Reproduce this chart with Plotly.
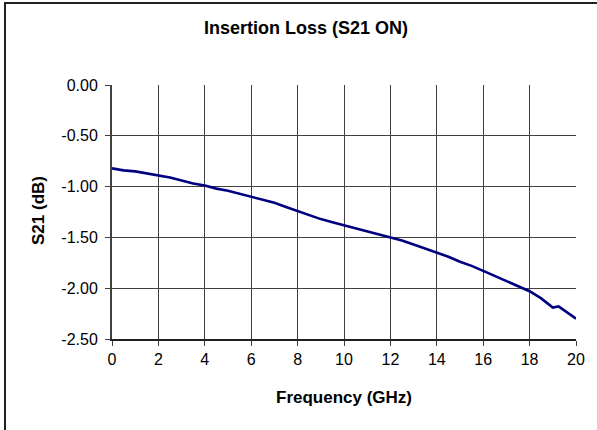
import plotly.graph_objects as go

freq_ghz = [0, 0.5, 1, 1.5, 2, 2.5, 3, 3.5, 4, 4.5, 5, 5.5, 6, 6.5, 7, 7.5, 8, 8.5, 9, 9.5,
            10, 10.5, 11, 11.5, 12, 12.5, 13, 13.5, 14, 14.5, 15, 15.5, 16, 16.5, 17, 17.5,
            18, 18.5, 19, 19.25, 19.5, 20]
s21_db = [-0.82, -0.84, -0.85, -0.87, -0.89, -0.91, -0.94, -0.97, -0.99, -1.02, -1.04, -1.07,
          -1.10, -1.13, -1.16, -1.20, -1.24, -1.28, -1.32, -1.35, -1.38, -1.41, -1.44, -1.47,
          -1.50, -1.53, -1.57, -1.61, -1.65, -1.69, -1.74, -1.78, -1.83, -1.88, -1.93, -1.98,
          -2.03, -2.10, -2.19, -2.18, -2.22, -2.30]

x_ticks = list(range(0, 21, 2))
y_ticks = [0.0, -0.5, -1.0, -1.5, -2.0, -2.5]
y_tick_text = ["0.00", "-0.50", "-1.00", "-1.50", "-2.00", "-2.50"]

W, H = 597, 430
L, R, T, B = 112, 21, 85, 91
pw, ph = W - L - R, H - T - B

def px_x(p):
    return (p - L) / pw

def px_y(p):
    return (H - B - p) / ph

font = "Liberation Sans, Arial, sans-serif"

fig = go.Figure()
fig.add_trace(go.Scatter(x=freq_ghz, y=s21_db, mode="lines",
                         line=dict(color="#000080", width=2.6), showlegend=False))

fig.update_layout(
    width=W, height=H,
    margin=dict(l=L, r=R, t=T, b=B),
    paper_bgcolor="white", plot_bgcolor="white",
    title=dict(text="<b>Insertion Loss (S21 ON)</b>", x=306 / W, xref="container",
               xanchor="center", y=1 - 28 / H, yref="container", yanchor="middle",
               font=dict(family=font, size=18, color="black")),
    xaxis=dict(range=[0, 20], tickvals=x_ticks, ticks="outside", ticklen=5, tickcolor="#404040",
               showgrid=True, gridcolor="#404040", gridwidth=1,
               showline=True, linecolor="#202020", linewidth=2, zeroline=False,
               tickfont=dict(family=font, size=16, color="black")),
    yaxis=dict(range=[-2.5, 0], tickvals=y_ticks, ticktext=y_tick_text, ticks="outside",
               ticklen=5, tickcolor="#404040", ticklabelstandoff=4,
               showgrid=True, gridcolor="#404040", gridwidth=1,
               showline=True, linecolor="#404040", linewidth=2, zeroline=False,
               tickfont=dict(family=font, size=16, color="black")),
    annotations=[
        dict(text="<b>Frequency (GHz)</b>", xref="paper", yref="paper", x=0.5, y=px_y(397),
             xanchor="center", yanchor="middle", showarrow=False,
             font=dict(family=font, size=17, color="black")),
        dict(text="<b>S21 (dB)</b>", xref="paper", yref="paper", x=px_x(38), y=px_y(211),
             xanchor="center", yanchor="middle", textangle=-90, showarrow=False,
             font=dict(family=font, size=17, color="black")),
    ],
    shapes=[dict(type="rect", xref="paper", yref="paper",
                 x0=px_x(5), x1=px_x(610), y0=px_y(445), y1=px_y(3),
                 line=dict(color="#202020", width=2), fillcolor="rgba(0,0,0,0)", layer="above")],
)

fig.write_html("out.html", config={"displayModeBar": False},
               post_script="document.body.style.margin='0';document.body.style.overflow='hidden';")
